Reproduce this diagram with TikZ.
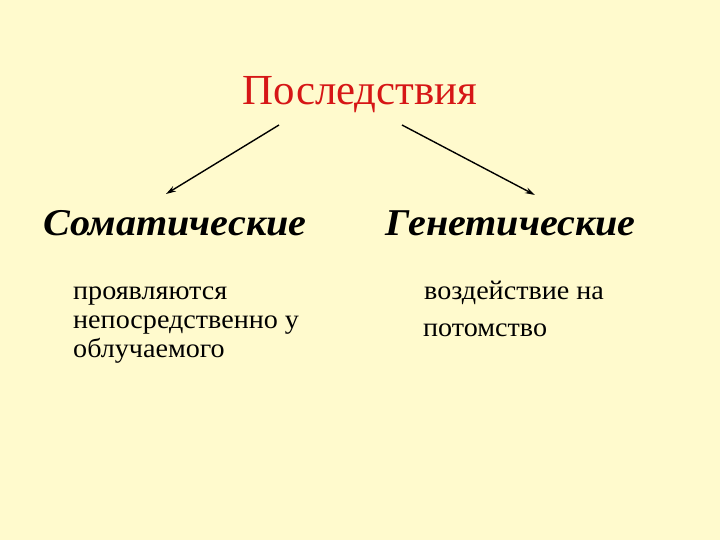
\documentclass[tikz,border=0pt]{standalone}
\usepackage{fontspec}
\setmainfont{Liberation Serif}
\usetikzlibrary{arrows.meta}
\definecolor{bgyellow}{RGB}{255,250,205}
\definecolor{titlered}{RGB}{214,22,22}
\newcommand{\hwide}[1]{\scalebox{1.06}[1]{#1}}
\newcommand{\bwide}[1]{\scalebox{1.045}[1]{#1}}
\tikzset{
  titletext/.style={font=\fontsize{43}{43}\selectfont, text=titlered, inner sep=0pt, anchor=base},
  headtext/.style={font=\fontsize{38}{38}\selectfont\bfseries\itshape, inner sep=0pt, anchor=base west},
  bodytext/.style={font=\fontsize{27}{27}\selectfont, inner sep=0pt, anchor=base west},
  conn/.style={line width=1.4bp, -{Stealth[length=10bp,width=6bp]}}
}
\begin{document}
\begin{tikzpicture}[x=1bp,y=-1bp]
\fill[bgyellow] (0,0) rectangle (720,540);
\useasboundingbox (0,0) rectangle (720,540);
\node[titletext] (title) at (360,105) {Последствия};
\node[headtext] (soma) at (43,236) {\hwide{Соматические}};
\node[headtext] (gene) at (385,236) {\hwide{Генетические}};
\node[bodytext] (s1) at (73,299) {\bwide{проявляются}};
\node[bodytext] (s2) at (73,328) {\bwide{непосредственно у}};
\node[bodytext] (s3) at (73,357) {\bwide{облучаемого}};
\node[bodytext] (g1) at (424,299) {\bwide{воздействие на}};
\node[bodytext] (g2) at (423,336) {\bwide{потомство}};
\coordinate (l0) at (279,125);
\coordinate (l1) at (166,194);
\coordinate (r0) at (402,125);
\coordinate (r1) at (535,195);
\draw[conn] (l0) -- (l1);
\draw[conn] (r0) -- (r1);
\end{tikzpicture}
\end{document}
